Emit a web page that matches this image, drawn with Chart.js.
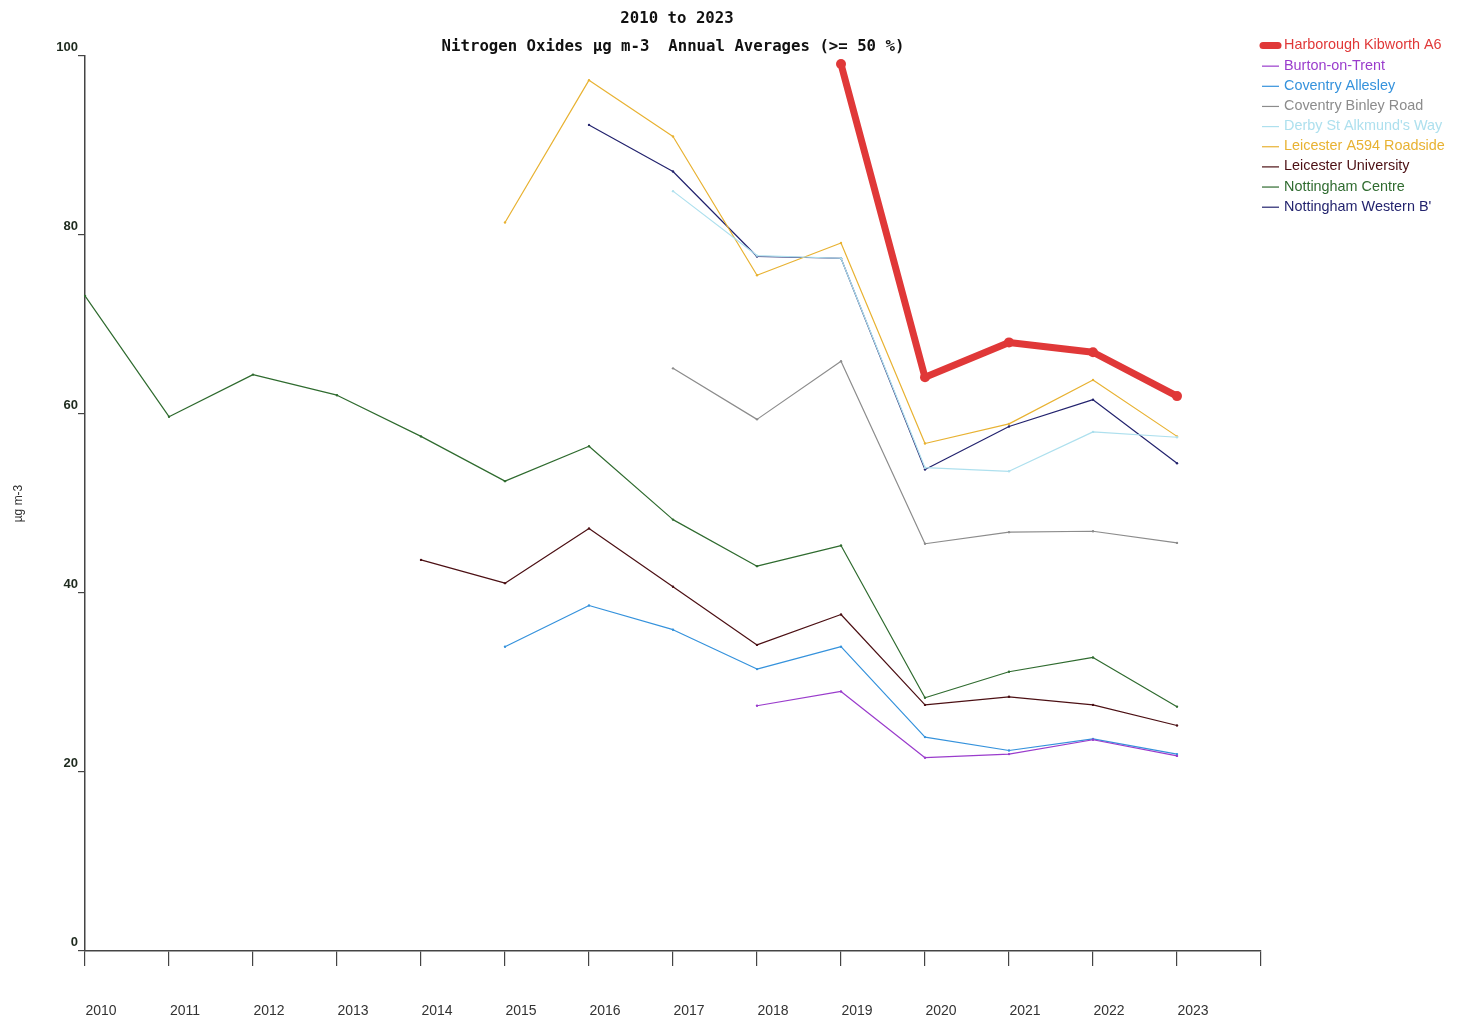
<!DOCTYPE html>
<html>
<head>
<meta charset="utf-8">
<title>Nitrogen Oxides Annual Averages 2010 to 2023</title>
<script src="https://cdn.jsdelivr.net/npm/chart.js@4.4.1/dist/chart.umd.min.js"></script>
<style>
  html, body { margin: 0; padding: 0; background: #ffffff; }
  #wrap { width: 1463px; height: 1023px; position: relative; }
</style>
</head>
<body>
<div id="wrap"><canvas id="chart" width="1463" height="1023"></canvas></div>
<script>
// Years on the x axis (the trailing blank slot closes the axis)
const years = ['2010','2011','2012','2013','2014','2015','2016','2017','2018','2019','2020','2021','2022','2023',''];

// Annual mean NOx (µg m-3) per site, null where no valid year
const harborough   = [null,null,null,null,null,null,null,null,null,99.1,64.1,68.0,66.9,62.0];
const burton       = [null,null,null,null,null,null,null,null,27.4,29.0,21.6,22.0,23.6,21.8];
const covAllesley  = [null,null,null,null,null,34.0,38.6,35.9,31.5,34.0,23.9,22.4,23.7,22.0];
const covBinley    = [null,null,null,null,null,null,null,65.1,59.4,65.9,45.5,46.8,46.9,45.6];
const derby        = [null,null,null,null,null,null,null,84.9,77.7,77.4,54.0,53.6,58.0,57.4];
const leicA594     = [null,null,null,null,null,81.4,97.3,91.0,75.5,79.1,56.7,58.9,63.8,57.5];
const leicUni      = [null,null,null,null,43.7,41.1,47.2,40.7,34.2,37.6,27.5,28.4,27.5,25.2];
const nottCentre   = [73.2,59.7,64.4,62.1,57.5,52.5,56.4,48.2,43.0,45.3,28.3,31.2,32.8,27.3];
const nottWestern  = [null,null,null,null,null,null,92.3,87.1,77.6,77.4,53.8,58.6,61.6,54.5];

const siteNames = [
  'Harborough Kibworth A6', 'Burton-on-Trent', 'Coventry Allesley', 'Coventry Binley Road',
  "Derby St Alkmund's Way", 'Leicester A594 Roadside', 'Leicester University',
  'Nottingham Centre', "Nottingham Western B'"
];
const siteSeries = [harborough, burton, covAllesley, covBinley, derby, leicA594, leicUni, nottCentre, nottWestern];
const siteColours = ['#e03838', '#9a3ccc', '#3592dc', '#8c8c8c', '#aee0ee', '#e8b232', '#4c1014', '#2f6b2f', '#23236e'];

const yTicks = [0, 20, 40, 60, 80, 100];
const titleLines = ['2010 to 2023', 'Nitrogen Oxides \u00b5g m-3  Annual Averages (>= 50 %)'];

const datasets = siteNames.map((name, i) => {
  const highlight = i === 0;
  return {
    label: name,
    data: siteSeries[i],
    borderColor: siteColours[i],
    backgroundColor: siteColours[i],
    borderWidth: highlight ? 7 : 1.2,
    pointRadius: highlight ? 5 : 1.2,
    pointBorderWidth: 0,
    pointHoverRadius: highlight ? 5 : 1.2,
    tension: 0,
    spanGaps: false,
    borderCapStyle: highlight ? 'round' : 'butt',
    borderJoinStyle: 'round',
    fill: false
  };
});

// Titles and the key on the right are drawn once the chart is laid out
const annotations = {
  id: 'annotations',
  afterDraw(chart) {
    const ctx = chart.ctx;
    const area = chart.chartArea;
    ctx.save();
    ctx.fillStyle = '#111111';
    ctx.font = 'bold 15.7px "DejaVu Sans Mono", "Liberation Mono", monospace';
    ctx.textAlign = 'center';
    ctx.textBaseline = 'middle';
    const cx = (area.left + area.right) / 2;
    ctx.fillText(titleLines[0], cx + 4, 19);
    ctx.fillText(titleLines[1], cx, 47);

    // key
    ctx.font = '14.4px "Liberation Sans", Arial, sans-serif';
    ctx.textAlign = 'left';
    chart.data.datasets.forEach((ds, i) => {
      const y = 45.5 + i * 20.15;
      ctx.strokeStyle = ds.borderColor;
      if (i === 0) {
        ctx.lineWidth = 7;
        ctx.lineCap = 'round';
        ctx.beginPath();
        ctx.moveTo(1263, y);
        ctx.lineTo(1278, y);
        ctx.stroke();
      } else {
        ctx.lineWidth = 1.2;
        ctx.lineCap = 'butt';
        ctx.beginPath();
        ctx.moveTo(1262, y + 0.5);
        ctx.lineTo(1279, y + 0.5);
        ctx.stroke();
      }
      ctx.fillStyle = ds.borderColor;
      ctx.fillText(ds.label, 1284, y);
    });
    ctx.restore();
  }
};

new Chart(document.getElementById('chart'), {
  type: 'line',
  data: { labels: years, datasets: datasets },
  options: {
    responsive: false,
    animation: false,
    events: [],
    layout: { padding: { top: 56, right: 202, left: 0, bottom: 0 } },
    plugins: {
      legend: { display: false },
      title: { display: false },
      tooltip: { enabled: false }
    },
    scales: {
      x: {
        type: 'category',
        offset: false,
        afterFit(scale) { scale.height = 72; },
        grid: {
          display: true,
          drawOnChartArea: false,
          drawTicks: true,
          tickLength: 15,
          color: '#444444',
          lineWidth: 1.2
        },
        border: { display: true, color: '#444444', width: 1.5 },
        ticks: {
          autoSkip: false,
          maxRotation: 0,
          minRotation: 0,
          padding: 37,
          labelOffset: 16,
          color: '#333333',
          font: { family: '"Liberation Sans", Arial, sans-serif', size: 14 }
        }
      },
      y: {
        type: 'linear',
        min: 0,
        max: 100,
        afterFit(scale) { scale.width = 85; },
        afterBuildTicks(scale) { scale.ticks = yTicks.map(v => ({ value: v })); },
        grid: {
          display: true,
          drawOnChartArea: false,
          drawTicks: true,
          tickLength: 7,
          color: '#444444',
          lineWidth: 1.2
        },
        border: { display: true, color: '#444444', width: 1.5 },
        ticks: {
          padding: 0,
          labelOffset: -9,
          color: '#1e2a1e',
          font: { family: '"Liberation Sans", Arial, sans-serif', size: 13, weight: 'bold' },
          callback: (v) => String(v)
        },
        title: {
          display: true,
          text: '\u00b5g m-3',
          color: '#333333',
          padding: { top: 11, bottom: 0 },
          font: { family: '"Liberation Sans", Arial, sans-serif', size: 12 }
        }
      }
    }
  },
  plugins: [annotations]
});
</script>
</body>
</html>
